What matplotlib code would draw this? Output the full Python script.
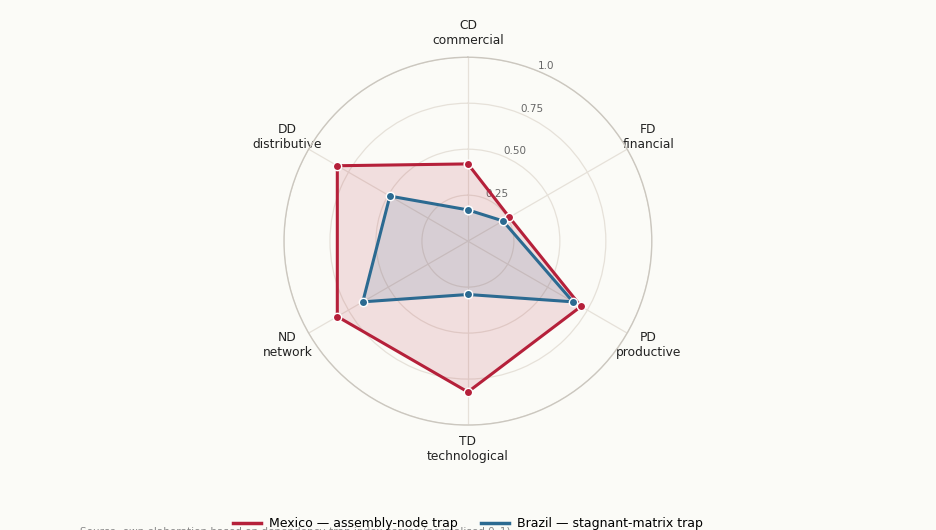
import numpy as np
import matplotlib
matplotlib.use('Agg')
import matplotlib.pyplot as plt
from matplotlib.lines import Line2D

# ===============
# Data
# ===============
codes = ['CD', 'FD', 'PD', 'TD', 'ND', 'DD']
names = ['commercial', 'financial', 'productive', 'technological', 'network', 'distributive']
mexico = [0.42, 0.26, 0.71, 0.82, 0.82, 0.82]
brazil = [0.17, 0.22, 0.66, 0.29, 0.66, 0.49]
r_ticks = [0.25, 0.5, 0.75, 1.0]
r_tick_labels = ['0.25', '0.50', '0.75', '1.0']
mexico_label = 'Mexico \u2014 assembly-node trap'
brazil_label = 'Brazil \u2014 stagnant-matrix trap'
source_note = 'Source: own elaboration based on dependency-trap index scores (normalised 0\u20131).'

# ===============
# Style
# ===============
bg = '#fbfbf7'
red = '#b5203a'
blue = '#2b6a91'
grid_col = '#e6e1d9'
spine_col = '#cbc7bf'

plt.rcParams['font.family'] = ['DejaVu Sans']

fig = plt.figure(figsize=(9.36, 5.30), dpi=100, facecolor=bg)
ax = fig.add_axes([0.3034, 0.198, 0.393, 0.694], projection='polar')
ax.set_facecolor(bg)
ax.set_theta_zero_location('N')
ax.set_theta_direction(-1)

angles = np.linspace(0, 2 * np.pi, len(codes), endpoint=False)
closed = np.concatenate([angles, angles[:1]])


def draw(values, color, label, alpha):
    vals = np.concatenate([values, values[:1]])
    ax.fill(closed, vals, color=color, alpha=alpha, zorder=2)
    ax.plot(closed, vals, color=color, lw=2.2, zorder=3, label=label,
            marker='o', markersize=6, markeredgecolor='white', markeredgewidth=1.0)


draw(mexico, red, mexico_label, 0.13)
draw(brazil, blue, brazil_label, 0.13)

ax.set_ylim(0, 1.0)
ax.set_yticks(r_ticks)
ax.set_yticklabels(r_tick_labels, fontsize=7.5, color='#666666')
ax.set_rlabel_position(22.5)
ax.set_xticks(angles)
ax.set_xticklabels([c + '\n' + n for c, n in zip(codes, names)], fontsize=8.8, color='#222222')
ax.tick_params(axis='x', pad=7)
ax.grid(color=grid_col, lw=0.9)
ax.spines['polar'].set_color(spine_col)
ax.spines['polar'].set_linewidth(1.0)

labels = [mexico_label, brazil_label]
handles = [Line2D([0], [0], color=red, lw=2.5), Line2D([0], [0], color=blue, lw=2.5)]
fig.legend(handles, labels, loc='upper center', bbox_to_anchor=(0.5, 0.045), ncol=2,
           frameon=False, fontsize=9, handlelength=2.2, handletextpad=0.65, columnspacing=1.9)

fig.text(0.085, -0.004, source_note, fontsize=7.5, color='#888888', va='center')

fig.savefig('out.png', dpi=100, facecolor=bg)
